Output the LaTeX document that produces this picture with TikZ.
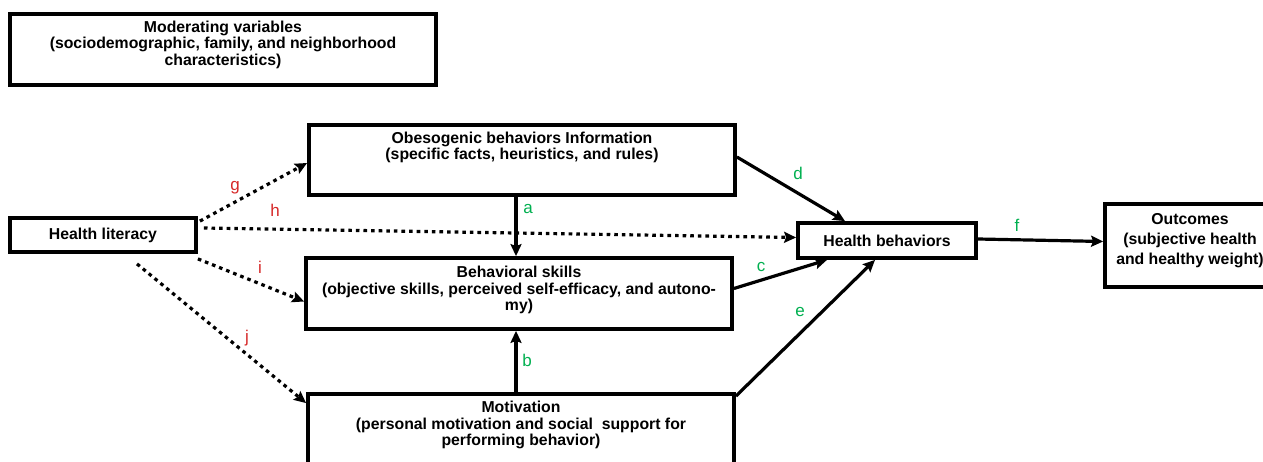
\documentclass[tikz,border=0pt]{standalone}
\usepackage{fontspec}
\setmainfont{Liberation Sans}
\usetikzlibrary{arrows.meta,calc}
\definecolor{lblred}{RGB}{214,40,40}
\definecolor{lblgreen}{RGB}{0,176,80}
\begin{document}
\begin{tikzpicture}[x=1pt,y=-1pt,
  box/.style={draw, line width=3.8pt, rectangle, inner sep=0pt},
  txt/.style={align=center, font=\fontsize{15.8}{16.5}\selectfont\bfseries, inner sep=0pt},
  conn/.style={line width=3.2pt, -{Stealth[length=12pt,width=11pt,inset=2pt]}},
  dotconn/.style={conn, dash pattern=on 3.6pt off 4pt},
  lr/.style={text=lblred, font=\fontsize{17}{17}\selectfont, inner sep=0pt},
  lg/.style={text=lblgreen, font=\fontsize{17}{17}\selectfont, inner sep=0pt}
]
\useasboundingbox[fill=white] (0,0) rectangle (1263,462);

% boxes
\node[box, minimum width=426pt, minimum height=71pt] (mod) at (223,49.5) {};
\node[box, minimum width=186pt, minimum height=34pt] (hl) at (103,235) {};
\node[box, minimum width=426pt, minimum height=70pt] (obes) at (522,160) {};
\node[box, minimum width=426pt, minimum height=71pt] (beh) at (519,293.5) {};
\node[box, minimum width=426pt, minimum height=90pt] (mot) at (521,439) {};
\node[box, minimum width=178pt, minimum height=35pt] (hb) at (887,240.5) {};
\node[box, minimum width=230pt, minimum height=83pt] (out) at (1220,245.5) {};

% texts
\node[txt] (modt) at (223,44.5) {Moderating variables\\(sociodemographic, family, and neighborhood\\characteristics)};
\node[txt] (hlt) at (103,235) {Health literacy};
\node[txt] (obest) at (522,147.5) {Obesogenic behaviors Information\\(specific facts, heuristics, and rules)};
\node[txt] (beht) at (519,290) {Behavioral skills\\(objective skills, perceived self-efficacy, and autono-\\my)};
\node[txt] (mott) at (521,425) {Motivation\\(personal motivation and social~ support for\\performing behavior)};
\node[txt] (hbt) at (887,240.5) {Health behaviors};
\node[txt, font=\fontsize{15.8}{20}\selectfont\bfseries] (outt) at (1190,240.5) {Outcomes\\(subjective health\\and healthy weight)};

% dotted connectors from health literacy
\coordinate (gs) at ($(hl.north east)+(2,5)$);
\coordinate (hs) at ($(hl.east)+(6,-7)$);
\coordinate (is) at ($(hl.south east)+(0,5)$);
\coordinate (js) at ($(hl.south)+(34,10)$);
\draw[dotconn] (gs) -- ($(obes.west)+(0,3)$);
\draw[dotconn] (hs) -- ($(hb.west)+(0,-3)$);
\draw[dotconn] (is) -- ($(beh.west)+(0,8)$);
\draw[dotconn] (js) -- ($(mot.north west)+(0,11)$);

% solid connectors
\draw[conn] ($(obes.south)+(-6,0)$) -- ($(beh.north)+(-3,0)$);
\draw[conn] ($(mot.north)+(-5,0)$) -- ($(beh.south)+(-3,0)$);
\draw[conn] ($(beh.east)+(0,-5)$) -- ($(hb.south)+(-60,0)$);
\draw[conn] ($(obes.east)+(0,-3)$) -- ($(hb.north)+(-42,0)$);
\draw[conn] ($(mot.north east)+(0,4)$) -- ($(hb.south)+(-12,0)$);
\draw[conn] ($(hb.east)+(0,-1.5)$) -- ($(out.west)+(0,-4)$);

% labels
\node[lr] (lg1) at (235,188) {g};
\node[lr] (lh) at (275,210) {h};
\node[lr] (li) at (260,267) {i};
\node[lr] (lj) at (247,338) {j};
\node[lg] (la) at (528,209) {a};
\node[lg] (lb) at (527,360) {b};
\node[lg] (lc) at (761,267) {c};
\node[lg] (ld) at (798,173) {d};
\node[lg] (le) at (800,312) {e};
\node[lg] (lf) at (1017,225) {f};
\end{tikzpicture}
\end{document}
